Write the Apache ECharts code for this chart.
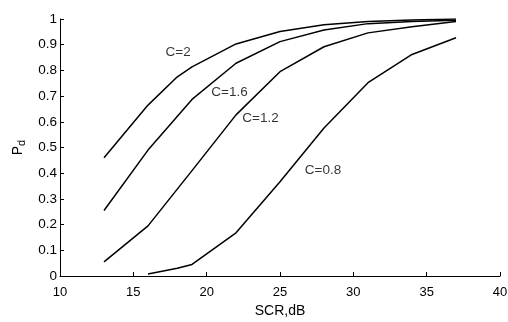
<!DOCTYPE html>
<html>
<head>
<meta charset="utf-8">
<script src="https://cdn.jsdelivr.net/npm/echarts@6/dist/echarts.min.js"></script>
<style>
  html, body { margin: 0; padding: 0; background: #fff; }
  #chart { width: 508px; height: 322px; }
</style>
</head>
<body>
<div id="chart"></div>
<script>
// SCR (dB) and Pd values
const scrC2 = [13, 16, 18, 19, 22, 25, 28, 31, 34, 37];
const pdC2 = [0.46, 0.665, 0.775, 0.814, 0.903, 0.951, 0.978, 0.99, 0.996, 1.0];
const scrC16 = [13, 16, 19, 22, 25, 28, 31, 34, 37];
const pdC16 = [0.255, 0.49, 0.687, 0.828, 0.912, 0.957, 0.982, 0.99, 0.995];
const scrC12 = [13, 16, 19, 22, 25, 28, 31, 34, 37];
const pdC12 = [0.055, 0.195, 0.41, 0.627, 0.795, 0.892, 0.946, 0.97, 0.99];
const scrC08 = [16, 18, 19, 22, 25, 28, 31, 34, 37];
const pdC08 = [0.008, 0.03, 0.045, 0.168, 0.367, 0.576, 0.752, 0.862, 0.927];

// curve labels, in data units
const curveNames = ['C=2', 'C=1.6', 'C=1.2', 'C=0.8'];
const labelScr = [18.05, 21.56, 23.67, 27.93];
const labelPd = [0.872, 0.713, 0.614, 0.412];

const font = 'Liberation Sans';
const chart = echarts.init(document.getElementById('chart'));

function pairs(xs, ys) {
  return xs.map((x, i) => [x, ys[i]]);
}

function curve(xs, ys) {
  return {
    type: 'line',
    data: pairs(xs, ys),
    showSymbol: false,
    symbol: 'none',
    silent: true,
    lineStyle: { color: '#000', width: 1.5 },
  };
}

chart.setOption({
  animation: false,
  grid: { left: 60, right: 8, top: 19, bottom: 46, outerBoundsMode: 'none', containLabel: false },
  xAxis: {
    type: 'value',
    min: 10,
    max: 40,
    interval: 5,
    name: 'SCR,dB',
    nameLocation: 'middle',
    nameGap: 28,
    nameTextStyle: { color: '#000', fontSize: 14, fontFamily: font },
    axisLine: { lineStyle: { color: '#000', width: 1 } },
    axisTick: { inside: true, length: 4, lineStyle: { color: '#000' } },
    axisLabel: { color: '#000', fontSize: 13, fontFamily: font, margin: 10 },
    splitLine: { show: false },
  },
  yAxis: {
    type: 'value',
    min: 0,
    max: 1,
    interval: 0.1,
    name: '{p|P}{d|d}',
    nameLocation: 'middle',
    nameRotate: 90,
    nameGap: 33,
    nameTextStyle: {
      rich: {
        p: { color: '#000', fontSize: 14, fontFamily: font },
        d: { color: '#000', fontSize: 11, fontFamily: font, verticalAlign: 'bottom', padding: [6, 0, 0, 0] },
      },
    },
    axisLine: { show: true, lineStyle: { color: '#000', width: 1 } },
    axisTick: { show: true, inside: true, length: 4, lineStyle: { color: '#000' } },
    axisLabel: { color: '#000', fontSize: 13.5, fontFamily: font, margin: 3 },
    splitLine: { show: false },
  },
  series: [
    curve(scrC2, pdC2),
    curve(scrC16, pdC16),
    curve(scrC12, pdC12),
    curve(scrC08, pdC08),
    {
      type: 'scatter',
      symbolSize: 0,
      silent: true,
      data: curveNames.map((n, i) => ({ name: n, value: [labelScr[i], labelPd[i]] })),
      label: {
        show: true,
        position: 'inside',
        formatter: '{b}',
        color: '#000',
        fontSize: 13.5,
        fontFamily: font,
      },
    },
  ],
});
</script>
</body>
</html>
